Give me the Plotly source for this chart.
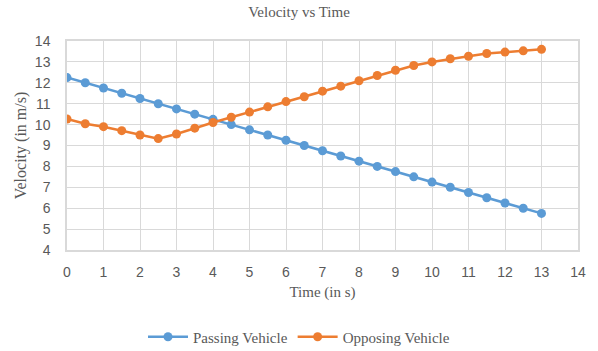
import plotly.graph_objects as go

time_s = [0, 0.5, 1, 1.5, 2, 2.5, 3, 3.5, 4, 4.5, 5, 5.5, 6, 6.5, 7, 7.5, 8, 8.5, 9, 9.5,
          10, 10.5, 11, 11.5, 12, 12.5, 13]
passing = [12.25, 12.0, 11.75, 11.5, 11.25, 11.0, 10.75, 10.5, 10.25, 10.0, 9.75, 9.5, 9.25,
           9.0, 8.75, 8.5, 8.25, 8.0, 7.75, 7.5, 7.25, 7.0, 6.75, 6.5, 6.25, 6.0, 5.75]
opposing = [10.27, 10.04, 9.9, 9.71, 9.5, 9.33, 9.55, 9.83, 10.1, 10.35, 10.6, 10.85, 11.1,
            11.33, 11.6, 11.84, 12.1, 12.35, 12.6, 12.83, 13.0, 13.15, 13.27, 13.4, 13.47, 13.53, 13.6]
x_ticks = list(range(0, 15))
y_ticks = list(range(4, 15))

serif = "Liberation Serif, Times New Roman, serif"
sans = "Liberation Sans, Arial, sans-serif"
grid = "#d9d9d9"
text_col = "#595959"

fig = go.Figure()
fig.add_trace(go.Scatter(x=time_s, y=passing, mode="lines+markers", name="Passing Vehicle",
                         line=dict(color="#5B9BD5", width=2.5),
                         marker=dict(color="#5B9BD5", size=9)))
fig.add_trace(go.Scatter(x=time_s, y=opposing, mode="lines+markers", name="Opposing Vehicle",
                         line=dict(color="#ED7D31", width=2.5),
                         marker=dict(color="#ED7D31", size=9)))

fig.update_layout(
    width=598, height=351,
    margin=dict(l=67, r=13, t=41, b=101),
    paper_bgcolor="white", plot_bgcolor="white",
    title=dict(text="Velocity vs Time", x=0.5, xref="container", xanchor="center",
               y=1 - 12 / 351, yref="container", yanchor="middle",
               font=dict(family=serif, size=15, color=text_col)),
    xaxis=dict(range=[0, 14], tickvals=x_ticks, showgrid=True, gridcolor=grid, gridwidth=1,
               showline=True, linecolor=grid, linewidth=1.5, mirror=True, zeroline=False,
               ticks="", ticklabelstandoff=8,
               tickfont=dict(family=sans, size=14, color=text_col),
               title=dict(text="Time (in s)", standoff=8,
                          font=dict(family=serif, size=15, color=text_col))),
    yaxis=dict(range=[4, 14], tickvals=y_ticks, showgrid=True, gridcolor=grid, gridwidth=1,
               showline=True, linecolor=grid, linewidth=1.5, mirror=True, zeroline=False,
               ticks="", ticklabelstandoff=12,
               tickfont=dict(family=sans, size=14, color=text_col),
               title=dict(text="Velocity (in m/s)", standoff=4,
                          font=dict(family=serif, size=16, color=text_col))),
    legend=dict(orientation="h", x=0.5, xref="container", xanchor="center",
                y=1 - 337 / 351, yref="container", yanchor="middle",
                font=dict(family=serif, size=15, color=text_col),
                itemwidth=40),
    showlegend=True,
)

fig.write_html("out.html")
